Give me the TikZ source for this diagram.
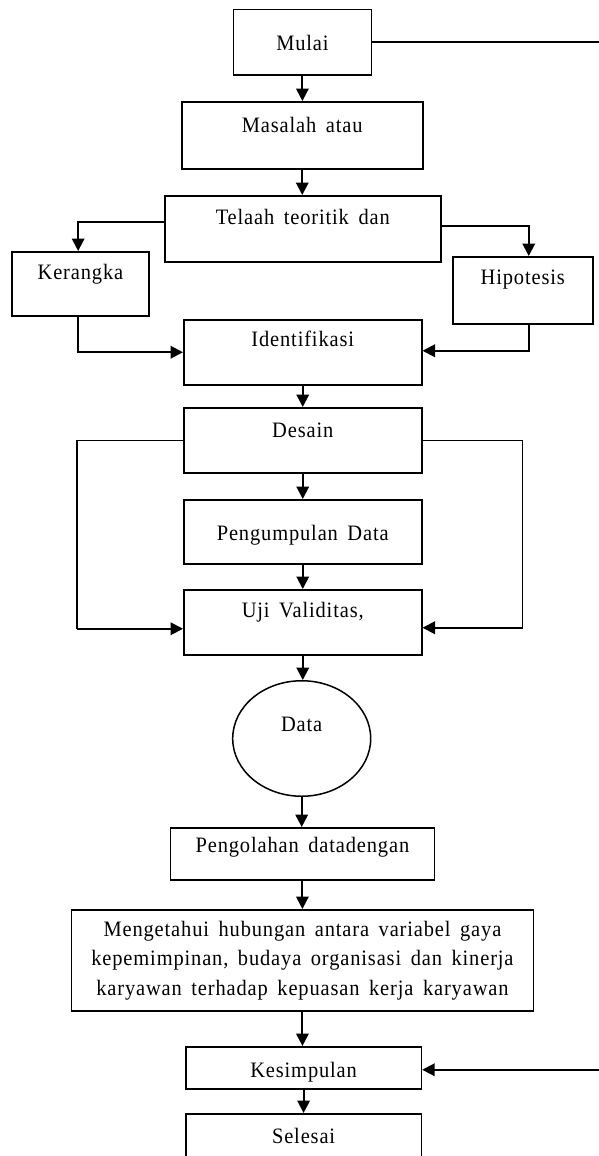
\documentclass[tikz,border=0pt]{standalone}
\usepackage{fontspec}
\setmainfont{Liberation Serif}[LetterSpace=3.9,WordSpace=1.6,FakeStretch=0.93]
\usetikzlibrary{arrows.meta,shapes.geometric}
\begin{document}
\begin{tikzpicture}[x=1pt,y=-1pt,
  box/.style={draw, line width=1.5pt, inner sep=0pt, anchor=north west, align=center},
  arr/.style={line width=2pt, -{Triangle[length=12.5pt,width=12.5pt]}},
  thinline/.style={line width=1.4pt},
  font=\fontsize{22}{29.5}\selectfont]
\useasboundingbox (0,0) rectangle (598,1156);

\node[box, minimum width=138.1pt, text height=41pt, text depth=24pt] (mulai) at (232.6,9) {Mulai};
\node[box, minimum width=241pt, text height=31pt, text depth=36pt] (masalah) at (181,101) {Masalah atau};
\node[box, minimum width=276pt, text height=28.5pt, text depth=37.5pt] (telaah) at (164,195) {Telaah teoritik dan};
\node[box, minimum width=136.6pt, text height=27.5pt, text depth=36.5pt] (kerangka) at (11.4,251) {Kerangka};
\node[box, minimum width=140pt, text height=28pt, text depth=39pt] (hipotesis) at (452,256) {Hipotesis};
\node[box, minimum width=238pt, text height=27pt, text depth=38pt] (identifikasi) at (183,319) {Identifikasi};
\node[box, minimum width=238pt, text height=29.5pt, text depth=35.5pt] (desain) at (183,407) {Desain};
\node[box, minimum width=238pt, text height=41pt, text depth=23pt] (pengumpulan) at (183,499) {Pengumpulan Data};
\node[box, minimum width=238pt, text height=28pt, text depth=37pt] (uji) at (183,589) {Uji Validitas,};
\node[draw, line width=1.5pt, ellipse, inner sep=0pt, minimum width=138pt, minimum height=115.5pt,
      text height=10pt, text depth=23.6pt] (data) at (301.7,738.5) {Data};
\node[box, minimum width=263.9pt, text height=25pt, text depth=27pt] (pengolahan) at (169.7,827) {Pengolahan datadengan};
\node[box, minimum width=462.2pt, minimum height=101pt] (mengetahui) at (70.6,909)
  {Mengetahui hubungan antara variabel gaya\\kepemimpinan, budaya organisasi dan kinerja\\karyawan terhadap kepuasan kerja karyawan};
\node[box, minimum width=235.7pt, text height=30.7pt, text depth=11.3pt] (kesimpulan) at (185,1046) {Kesimpulan};
\node[box, minimum width=235.7pt, text height=30pt, text depth=32pt] (selesai) at (185,1113) {Selesai};

% main vertical flow
\draw[arr] (mulai.south) -- (mulai.south |- masalah.north);
\draw[arr] (masalah.south) -- (masalah.south |- telaah.north);
\draw[arr] (identifikasi.south) -- (identifikasi.south |- desain.north);
\draw[arr] (desain.south) -- (desain.south |- pengumpulan.north);
\draw[arr] (pengumpulan.south) -- (pengumpulan.south |- uji.north);
\draw[arr] (uji.south) -- (uji.south |- data.north);
\draw[arr] (data.south) -- (data.south |- pengolahan.north);
\draw[arr] (pengolahan.south) -- (pengolahan.south |- mengetahui.north);
\draw[arr] (mengetahui.south) -- (mengetahui.south |- kesimpulan.north);
\draw[arr] (kesimpulan.south) -- (kesimpulan.south |- selesai.north);

% branches from Telaah
\draw[arr] ([yshift=7pt]telaah.west) -| ([xshift=-2.3pt]kerangka.north);
\draw[arr] ([yshift=3pt]telaah.east) -| ([xshift=6pt]hipotesis.north);
\draw[arr] ([xshift=-2.3pt]kerangka.south) |- (identifikasi.west);
\draw[arr] ([xshift=6pt]hipotesis.south) |- ([yshift=1.5pt]identifikasi.east);

% loops from Desain to Uji
\coordinate (lx) at (77,0);
\coordinate (rx) at (522.5,0);
\coordinate (ujiL) at ([yshift=-6.5pt]uji.west);
\coordinate (ujiR) at ([yshift=-5.5pt]uji.east);
\draw[thinline] (desain.west) -| (lx |- ujiL);
\draw[arr] (lx |- ujiL) -- (ujiL);
\draw[thinline] (desain.east) -| (rx |- ujiR);
\draw[arr] (rx |- ujiR) -- (ujiR);

% Mulai to Kesimpulan along the right edge
\coordinate (far) at (607,0);
\coordinate (kesR) at ([yshift=-2pt]kesimpulan.east);
\draw[arr] (mulai.east) -| (far |- kesR) -- (kesR);
\end{tikzpicture}
\end{document}
